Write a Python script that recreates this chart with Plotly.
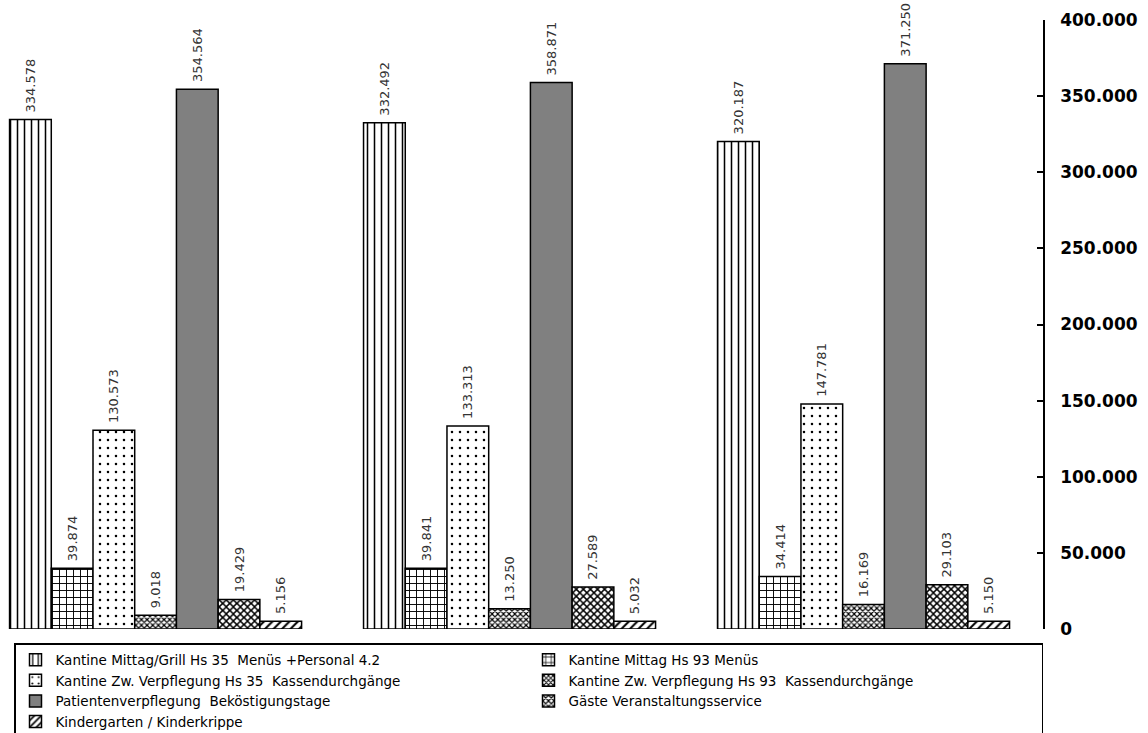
import plotly.graph_objects as go

groups = ["G1", "G2", "G3"]
series_names = [
    "Kantine Mittag/Grill Hs 35  Menüs +Personal 4.2",
    "Kantine Mittag Hs 93 Menüs",
    "Kantine Zw. Verpflegung Hs 35  Kassendurchgänge",
    "Kantine Zw. Verpflegung Hs 93  Kassendurchgänge",
    "Patientenverpflegung  Beköstigungstage",
    "Gäste Veranstaltungsservice",
    "Kindergarten / Kinderkrippe",
]
mittag_grill_hs35 = [334578, 332492, 320187]
mittag_hs93 = [39874, 39841, 34414]
zw_hs35 = [130573, 133313, 147781]
zw_hs93 = [9018, 13250, 16169]
patienten = [354564, 358871, 371250]
gaeste = [19429, 27589, 29103]
kindergarten = [5156, 5032, 5150]
series_values = [mittag_grill_hs35, mittag_hs93, zw_hs35, zw_hs93, patienten, gaeste, kindergarten]

y_ticks = [0, 50000, 100000, 150000, 200000, 250000, 300000, 350000, 400000]

patterns = [
    dict(shape="|", size=7, solidity=0.22),
    dict(shape="+", size=7, solidity=0.25),
    dict(shape=".", size=8, solidity=0.08),
    dict(shape="x", size=4, solidity=0.5),
    None,
    dict(shape="x", size=5, solidity=0.5),
    dict(shape="/", size=6, solidity=0.35),
]

W, H = 1148, 733
PLOT_W = 1043
PLOT_H = 609
TOP = 20

fig = go.Figure()
for name, vals, pat in zip(series_names, series_values, patterns):
    if pat is None:
        marker = dict(color="#808080", line=dict(color="black", width=1.5))
    else:
        p = dict(pat)
        p.update(fgcolor="black", bgcolor="white", fgopacity=1, fillmode="replace")
        marker = dict(color="white", pattern=p, line=dict(color="black", width=1.5))
    fig.add_trace(go.Bar(
        x=groups, y=vals, name=name, marker=marker,
        texttemplate="\u00a0%{y:,.0f}", textposition="outside", textangle=-90,
        textfont=dict(family="DejaVu Sans", size=13, color="#333333"),
        cliponaxis=False, constraintext="none",
    ))

fig.update_layout(
    width=W, height=H,
    margin=dict(l=0, r=W - PLOT_W, t=TOP, b=H - TOP - PLOT_H, autoexpand=False),
    paper_bgcolor="white", plot_bgcolor="white",
    separators=",.",
    barmode="group", bargap=0.175, bargroupgap=0,
    showlegend=True,
    legend=dict(
        orientation="h", x=14 / PLOT_W, y=-14 / PLOT_H, xanchor="left", yanchor="top",
        bordercolor="black", borderwidth=1.5, bgcolor="white",
        entrywidth=468, entrywidthmode="pixels",
        font=dict(family="DejaVu Sans, Liberation Sans, sans-serif", size=13.5, color="black"),
        traceorder="normal",
    ),
    xaxis=dict(
        type="category", range=[-0.4395, 2.507], showticklabels=False,
        showline=False, ticks="", showgrid=False, zeroline=False,
    ),
    yaxis=dict(
        side="right", range=[0, 400000], tickvals=y_ticks, tickformat=",d",
        ticks="inside", ticklen=6, tickwidth=1.5, tickcolor="black",
        showline=True, linecolor="black", linewidth=1.5,
        showgrid=False, zeroline=False, ticklabelstandoff=12,
        tickfont=dict(family="DejaVu Sans, Liberation Sans, sans-serif", size=17, color="black", weight="bold"),
    ),
)

fig.write_html(
    "out.html",
    config={"displayModeBar": False},
    post_script="document.body.style.margin='0';",
)
